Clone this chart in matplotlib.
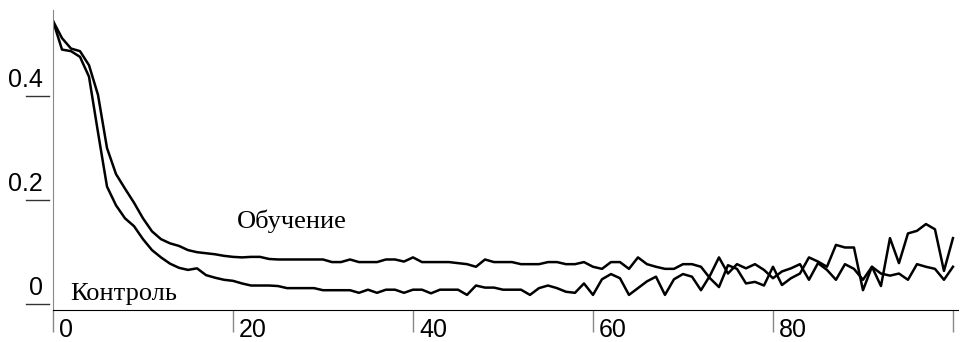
# Кривые ошибки: обучение и контроль по эпохам
import numpy as np
import matplotlib.pyplot as plt
from matplotlib.transforms import offset_copy

# Данные
epochs = np.arange(101)

obuchenie = [
    0.544, 0.511, 0.491, 0.486, 0.459, 0.402, 0.300, 0.250, 0.222, 0.195,
    0.165, 0.140, 0.125, 0.117, 0.112, 0.104, 0.100, 0.098, 0.096, 0.093,
    0.091, 0.090, 0.091, 0.091, 0.087, 0.086, 0.086, 0.086, 0.086, 0.086,
    0.086, 0.081, 0.081, 0.086, 0.081, 0.081, 0.081, 0.086, 0.086, 0.082,
    0.090, 0.081, 0.081, 0.081, 0.081, 0.079, 0.077, 0.072, 0.086, 0.081,
    0.081, 0.081, 0.077, 0.077, 0.077, 0.081, 0.081, 0.077, 0.077, 0.081,
    0.072, 0.068, 0.081, 0.081, 0.068, 0.090, 0.077, 0.072, 0.068, 0.068,
    0.077, 0.077, 0.072, 0.050, 0.033, 0.075, 0.068, 0.040, 0.043, 0.036,
    0.072, 0.037, 0.050, 0.059, 0.090, 0.082, 0.072, 0.114, 0.109, 0.109,
    0.027, 0.072, 0.035, 0.127, 0.079, 0.136, 0.141, 0.154, 0.144, 0.064,
    0.127,
]

kontrol = [
    0.544, 0.489, 0.486, 0.475, 0.437, 0.330, 0.226, 0.190, 0.165, 0.150,
    0.125, 0.104, 0.090, 0.078, 0.070, 0.066, 0.069, 0.056, 0.051, 0.047,
    0.045, 0.040, 0.036, 0.036, 0.036, 0.035, 0.031, 0.031, 0.031, 0.031,
    0.027, 0.027, 0.027, 0.027, 0.022, 0.028, 0.022, 0.028, 0.028, 0.022,
    0.028, 0.028, 0.021, 0.028, 0.028, 0.028, 0.018, 0.036, 0.032, 0.032,
    0.028, 0.028, 0.028, 0.018, 0.031, 0.036, 0.031, 0.024, 0.022, 0.040,
    0.018, 0.048, 0.058, 0.050, 0.018, 0.031, 0.044, 0.053, 0.018, 0.048,
    0.058, 0.053, 0.027, 0.055, 0.090, 0.059, 0.077, 0.069, 0.077, 0.066,
    0.050, 0.063, 0.069, 0.077, 0.047, 0.079, 0.066, 0.047, 0.077, 0.068,
    0.047, 0.072, 0.059, 0.055, 0.059, 0.047, 0.077, 0.072, 0.068, 0.047,
    0.072,
]

x_ticks = [0, 20, 40, 60, 80, 100]
x_labels = ['0', '20', '40', '60', '80', '']
y_ticks = [0, 0.2, 0.4]
y_labels = ['0', '0.2', '0.4']

sans = 'Liberation Sans'
serif = 'Liberation Serif'

fig = plt.figure(figsize=(9.63, 3.42), dpi=100)
ax = fig.add_axes([53 / 963, 1 - 310 / 342, 905 / 963, 300 / 342])

# Кривые
ax.plot(epochs, obuchenie, color='black', lw=1.8)
ax.plot(epochs, kontrol, color='black', lw=1.8)

ax.set_xlim(0, 100.56)
ax.set_ylim(-0.011, 0.565)

# Оси
for s in ['top', 'right']:
    ax.spines[s].set_visible(False)
ax.spines['left'].set_color('#888888')
ax.spines['bottom'].set_color('black')

# Деления по X: вертикальные штрихи вниз, подписи справа от штриха
ax.set_xticks(x_ticks)
ax.set_xticklabels([])
ax.tick_params(axis='x', direction='out', length=16, width=1, color='#888888')
xtr = offset_copy(ax.get_xaxis_transform(), fig=fig, x=6, y=-8, units='dots')
for v, lab in zip(x_ticks, x_labels):
    ax.text(v, 0, lab, transform=xtr, ha='left', va='top', fontsize=18, family=sans)

# Деления по Y: отдельные штрихи слева, подписи над ними
ax.set_yticks([])
ytr = ax.get_yaxis_transform()
ytr_lab = offset_copy(ytr, fig=fig, y=9, units='dots')
for v, lab in zip(y_ticks, y_labels):
    ax.plot([-0.0298, -0.0044], [v, v], transform=ytr, color='#333333', lw=1, clip_on=False)
    ax.text(-0.011, v, lab, transform=ytr_lab, ha='right', va='baseline', fontsize=18, family=sans)

# Подписи кривых
ax.text(20.4, 0.146, 'Обучение', fontsize=19, family=serif, va='baseline')
ax.text(1.9, 0.008, 'Контроль', fontsize=19, family=serif, va='baseline')

plt.savefig('out.png', dpi=100)
